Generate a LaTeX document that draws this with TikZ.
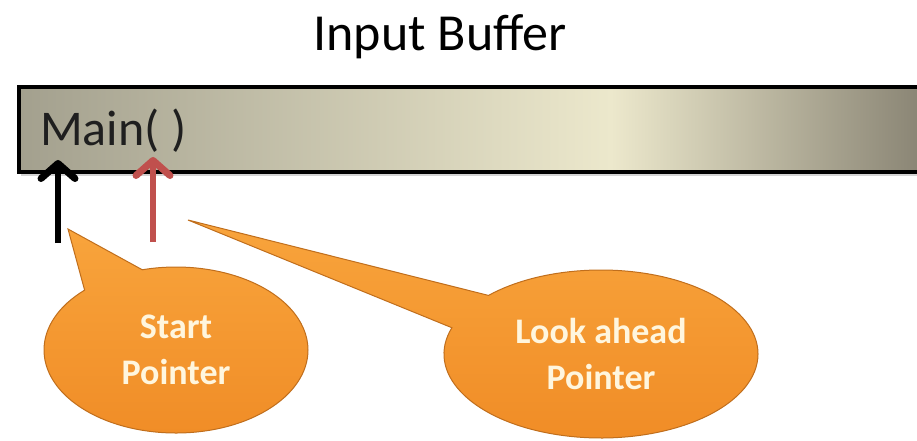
\documentclass[tikz,border=0pt]{standalone}
\usepackage{fontspec}
\setmainfont{Carlito}
\usetikzlibrary{shapes.callouts,arrows.meta,shadows}
\definecolor{bufleft}{HTML}{A3A08E}
\definecolor{bufmid}{HTML}{ECE8CC}
\definecolor{bufright}{HTML}{878272}
\definecolor{ptrred}{HTML}{C0504D}
\definecolor{balltop}{HTML}{F8A43C}
\definecolor{ballbot}{HTML}{F08C26}
\definecolor{balledge}{HTML}{C06E1C}
\definecolor{balltext}{HTML}{FFF6DE}
\pgfdeclarehorizontalshading{bufshade}{100bp}{color(0bp)=(bufleft); color(25bp)=(bufleft); color(57.5bp)=(bufmid); color(75bp)=(bufright); color(100bp)=(bufright)}

\begin{document}
\begin{tikzpicture}[x=1pt,y=-1pt]
\tikzstyle{every node}+=[inner sep=0pt]
\tikzstyle{bubble}=[ellipse callout, draw=balledge, line width=1pt, top color=balltop, bottom color=ballbot, text=balltext, font=\fontsize{36}{46}\selectfont\bfseries, align=center]
\tikzstyle{pointer}=[line width=6pt, -{Straight Barb[length=15pt,width=34pt,line width=7pt,round]}]
\useasboundingbox (0,0) rectangle (917,440);
\node [anchor=base] (title) at (440,50) {\fontsize{52}{60}\selectfont Input Buffer};
\node [anchor=north west, draw, line width=4pt, shade, shading=bufshade, minimum width=911pt, minimum height=85pt, drop shadow={opacity=0.35,shadow xshift=2pt,shadow yshift=-4pt}] (buffer) at (17,85) {};
\node [anchor=base west, text=black!88] (maintext) at (40,145) {\fontsize{50}{60}\selectfont Main( )};
\coordinate (startfoot) at (58,243);
\coordinate (starttip) at (58,160);
\draw [pointer, black] (startfoot) -- (starttip);
\coordinate (lookfoot) at (153,242);
\coordinate (looktip) at (153,157);
\draw [pointer, ptrred] (lookfoot) -- (looktip);
\coordinate (starttail) at (68,229);
\coordinate (looktail) at (188,220);
\node [bubble, callout pointer arc=29, minimum width=264pt, minimum height=166pt, callout absolute pointer=(starttail)] (startball) at (176,350) {Start\\Pointer};
\node [bubble, callout pointer arc=26, minimum width=314pt, minimum height=168pt, callout absolute pointer=(looktail)] (lookball) at (601,354) {Look ahead\\Pointer};
\end{tikzpicture}
\end{document}
